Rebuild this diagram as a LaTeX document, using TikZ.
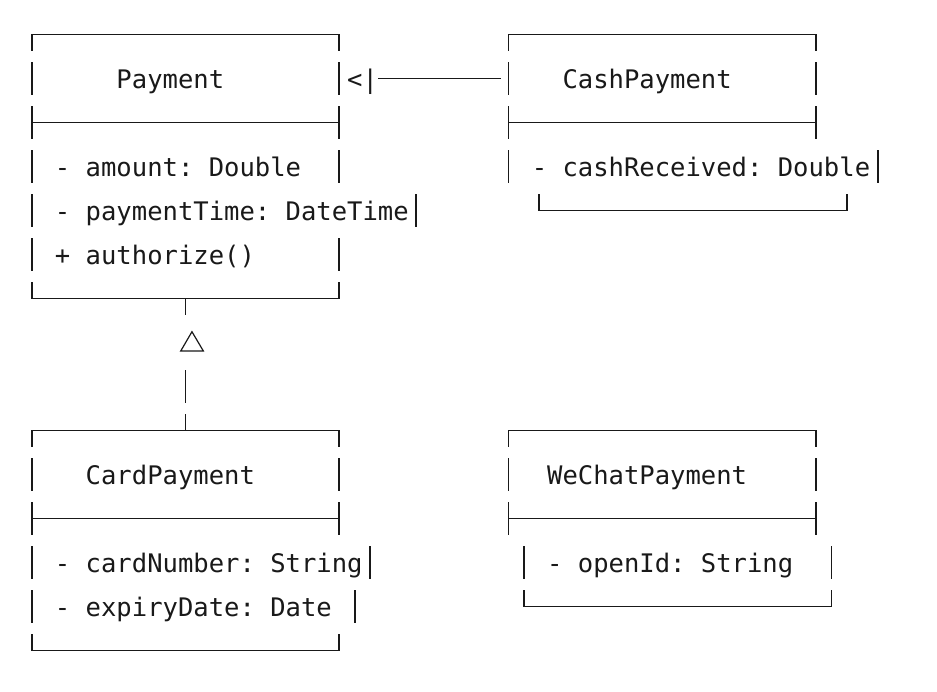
\documentclass[tikz,border=0pt]{standalone}
\usepackage{fontspec}
\newfontfamily\umlfont{DejaVu Sans Mono}

\tikzset{
  boxline/.style={line width=1.9pt, line join=miter, color=black!90},
  txt/.style={anchor=base west, inner sep=0pt, text=black!90, font=\umlfont\fontsize{25.55pt}{30pt}\selectfont}
}

\begin{document}
\frenchspacing
\begin{tikzpicture}[x=15.38pt, y=-44pt]
  \useasboundingbox (-31.7pt,34.5pt) rectangle (905.3pt,-657.5pt);
  % one grid cell = one character, (c,r) is the middle of column c, row r
  \def\hh{0.364}

  % class names and members
  \node[txt] (payment) at (5.5,1.22) {Payment};
  \node[txt] (paymentA) at (1.5,3.22) {- amount: Double};
  \node[txt] (paymentB) at (1.5,4.22) {- paymentTime: DateTime};
  \node[txt] (paymentC) at (1.5,5.22) {+ authorize()};

  \node[txt] (cash) at (34.5,1.22) {CashPayment};
  \node[txt] (cashA) at (32.5,3.22) {- cashReceived: Double};

  \node[txt] (card) at (3.5,10.22) {CardPayment};
  \node[txt] (cardA) at (1.5,12.22) {- cardNumber: String};
  \node[txt] (cardB) at (1.5,13.22) {- expiryDate: Date};

  \node[txt] (wechat) at (33.5,10.22) {WeChatPayment};
  \node[txt] (wechatA) at (33.5,12.22) {- openId: String};

  % top borders
  \foreach \a/\b/\r in {0/20/0,31/51/0,0/20/9,31/51/9}{
    \draw[boxline] (\a,{\r+\hh}) -- (\a,\r) -- (\b,\r) -- (\b,{\r+\hh});}

  % bottom borders
  \foreach \a/\b/\r in {0/20/6,33/53/4,0/20/14,32/52/13}{
    \draw[boxline] (\a,{\r-\hh}) -- (\a,\r) -- (\b,\r) -- (\b,{\r-\hh});}

  % separators under the names
  \foreach \a/\b/\r in {0/20/2,31/51/2,0/20/11,31/51/11}{
    \draw[boxline] (\a,\r) -- (\b,\r);}

  % side bars, row by row
  \foreach \c/\r in {0/1,20/1,0/2,20/2,0/3,20/3,0/4,25/4,0/5,20/5,
                     31/1,51/1,31/2,51/2,31/3,55/3,
                     0/10,20/10,0/11,20/11,0/12,22/12,0/13,21/13,
                     31/10,51/10,31/11,51/11,32/12,52/12}{
    \draw[boxline] (\c,{\r-\hh}) -- (\c,{\r+\hh});}

  % CashPayment to Payment
  \node[txt] (tip) at (20.5,1.22) {<|};
  \coordinate (cashW) at (30.5,1);
  \draw[boxline] (tip.east |- cashW) -- (cashW);

  % CardPayment to Payment
  \coordinate (up) at (10,6);
  \coordinate (down) at (10,9);
  \draw[boxline] (up) -- ++(0,\hh);
  \draw[boxline] (10,{8-\hh}) -- (10,{8+\hh});
  \draw[boxline] (down) -- ++(0,-\hh);
  \draw[line width=1.2pt, line join=miter, color=black!90] (9.69,7.193) -- (11.16,7.193) -- (10.42,6.755) -- cycle;
\end{tikzpicture}
\end{document}
